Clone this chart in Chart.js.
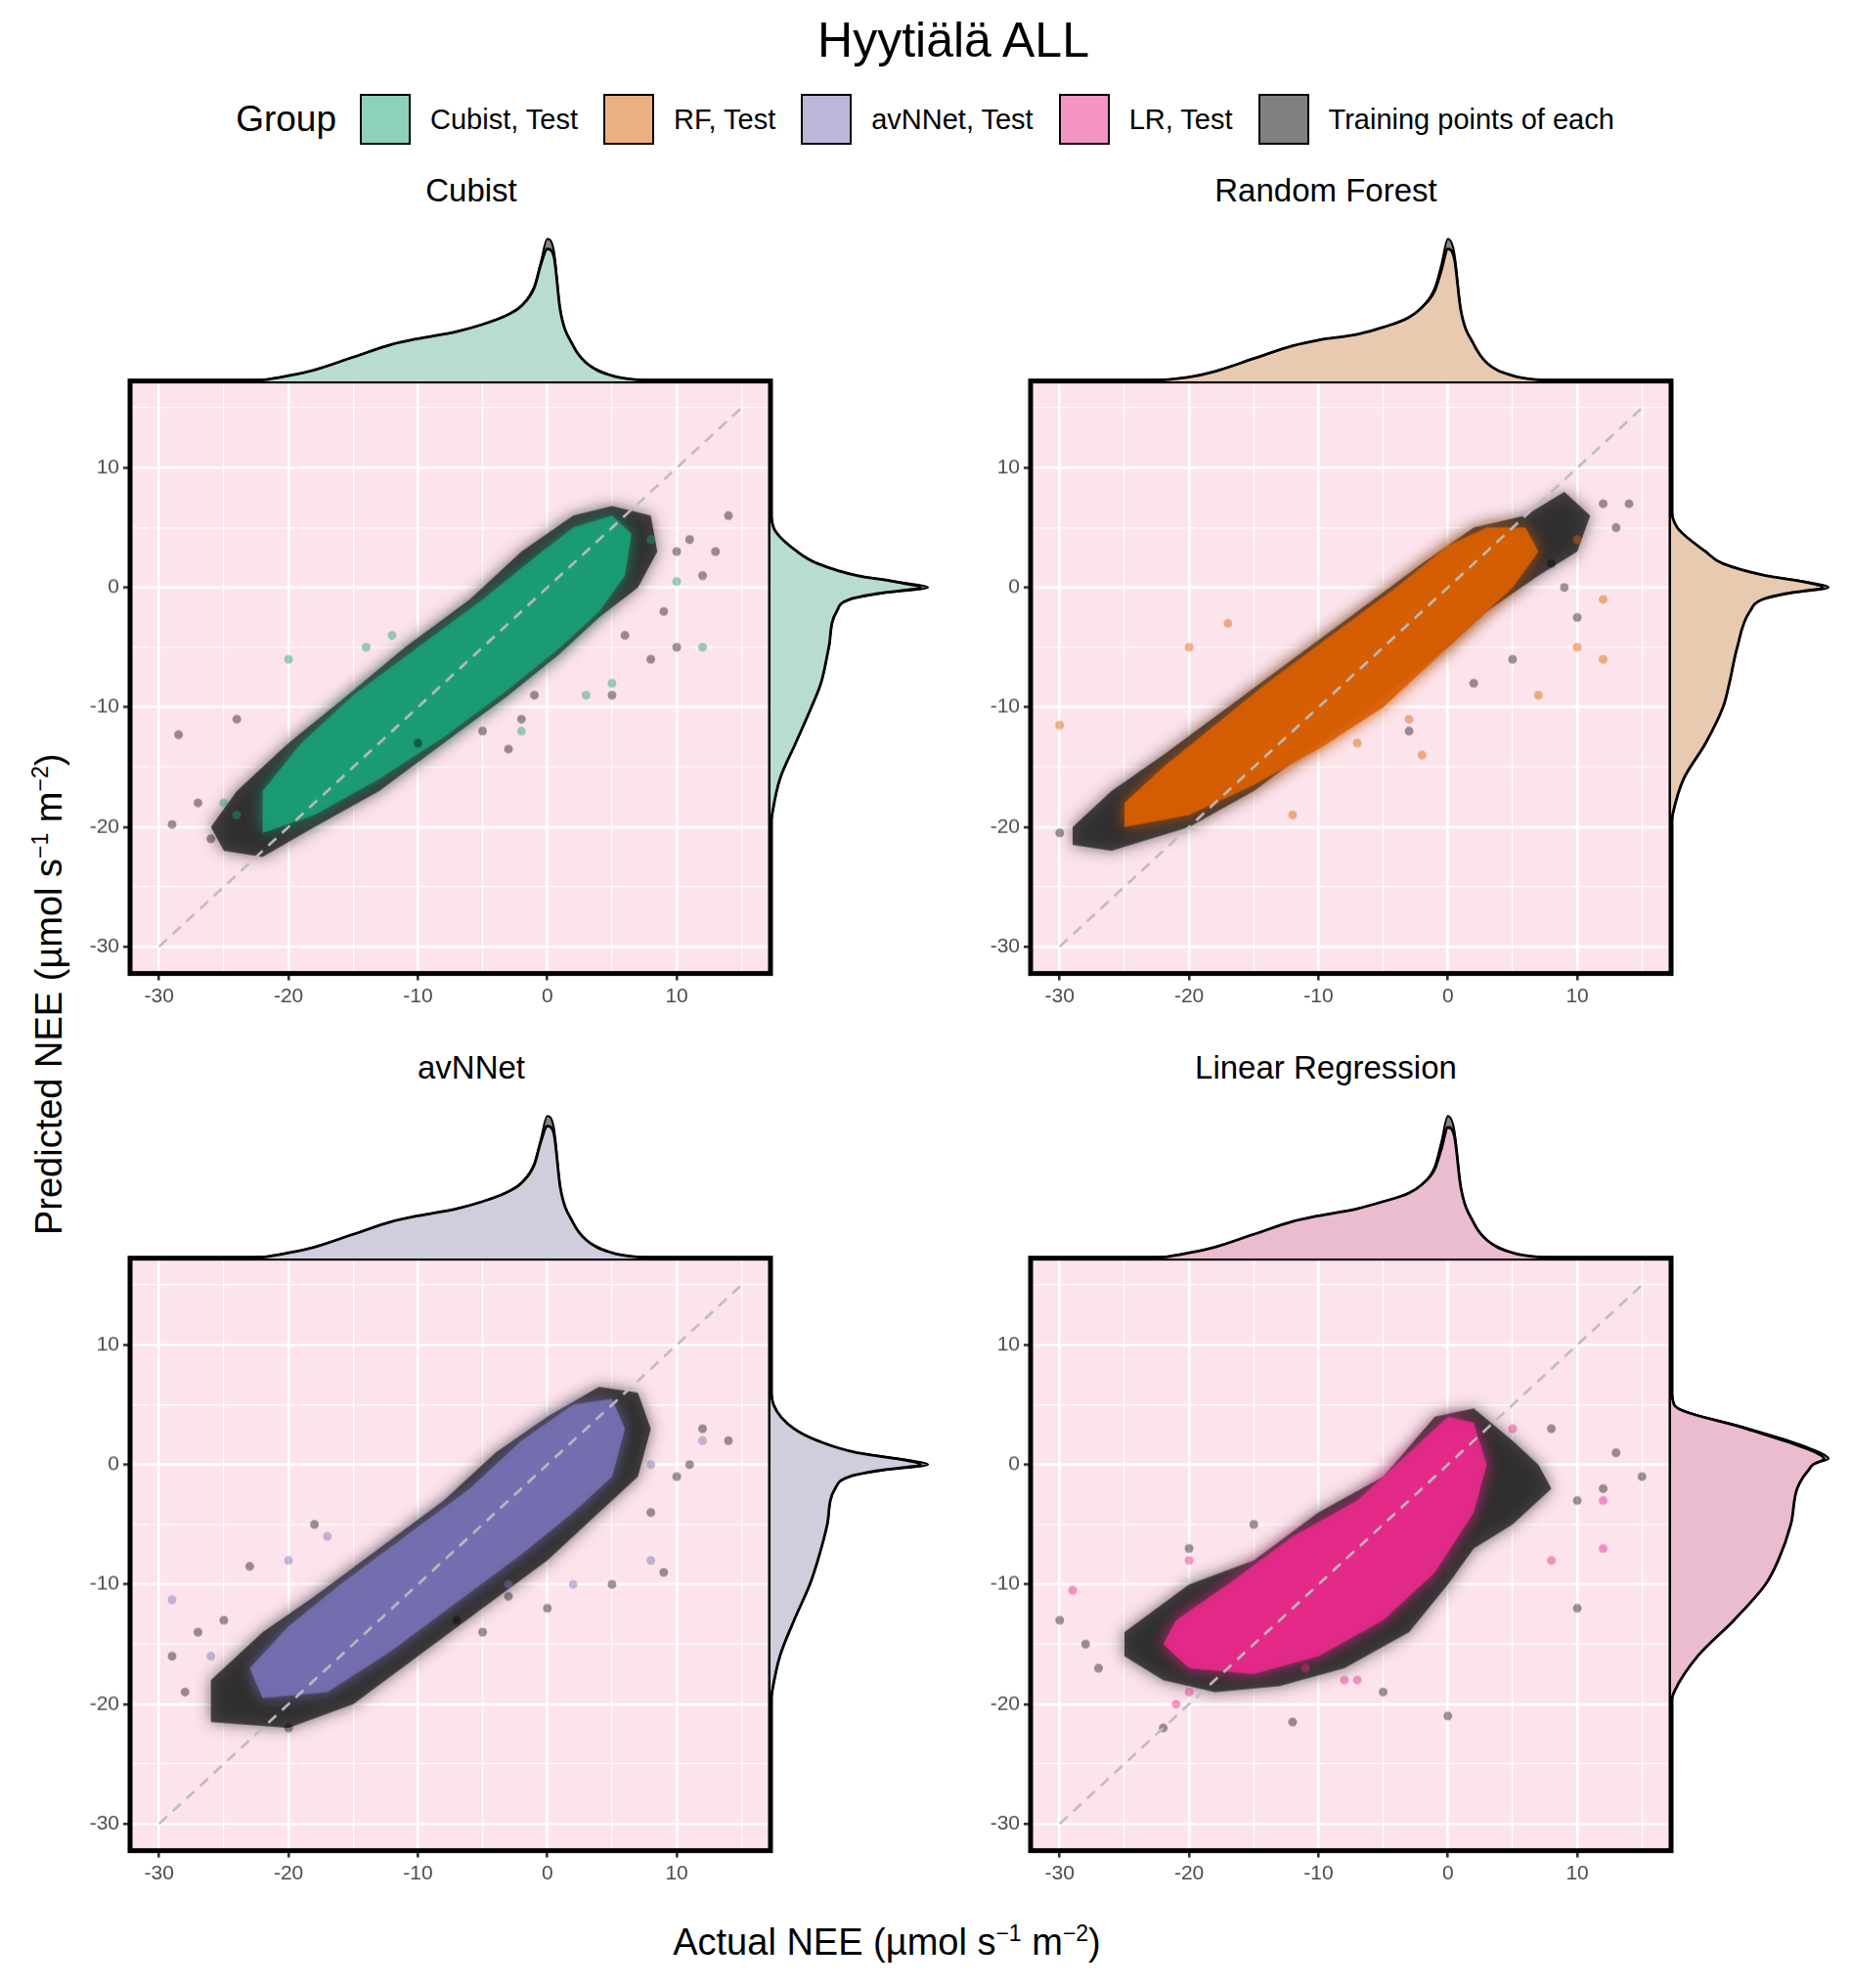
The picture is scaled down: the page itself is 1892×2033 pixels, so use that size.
<!DOCTYPE html>
<html>
<head>
<meta charset="utf-8">
<script src="https://cdn.jsdelivr.net/npm/chart.js@4.4.1/dist/chart.umd.min.js"></script>
<style>
  body { margin:0; background:#fff; font-family:"Liberation Sans", Arial, sans-serif; }
  #page { position:relative; width:1892px; height:2033px; overflow:hidden; }
  .box { position:absolute; }
  .txt { position:absolute; color:#000; white-space:nowrap; }
  #legend { position:absolute; top:96px; left:0; width:1892px; display:flex; justify-content:center; align-items:center; font-size:29px; }
  #legend .k { width:52px; height:52px; border:2px solid #000; box-sizing:border-box; margin:0 20px 0 26px; }
  #legend .g { font-size:37px; margin-right:-2px; }
</style>
</head>
<body>
<div id="page">
  <div class="txt" style="top:12px;left:0;width:1950px;text-align:center;font-size:50px;">Hyytiälä ALL</div>
  <div id="legend">
    <span class="g">Group</span>
    <span class="k" style="background:#8dd1b9"></span><span>Cubist, Test</span>
    <span class="k" style="background:#ecaf7f"></span><span>RF, Test</span>
    <span class="k" style="background:#bab7d9"></span><span>avNNet, Test</span>
    <span class="k" style="background:#f394c4"></span><span>LR, Test</span>
    <span class="k" style="background:#808080"></span><span>Training points of each</span>
  </div>
  <div class="txt" style="left:0;top:1964px;width:1814px;text-align:center;font-size:38px;">Actual NEE (µmol s<sup style="font-size:23px">−1</sup> m<sup style="font-size:23px">−2</sup>)</div>
  <div class="txt" style="left:-240px;top:995px;width:580px;text-align:center;font-size:38px;transform:rotate(-90deg);">Predicted NEE (µmol s<sup style="font-size:23px">−1</sup> m<sup style="font-size:23px">−2</sup>)</div>
</div>
<script>
// ---- data ----
const panelTitles = ['Cubist', 'Random Forest', 'avNNet', 'Linear Regression'];
const testColors = ['#1b9e77', '#d95f02', '#7570b3', '#e7298a'];
const margColors = ['#b8dccf', '#e8cab0', '#cfcedd', '#ebbcd0'];
const axisTicks = [-30, -25, -20, -15, -10, -5, 0, 5, 10, 15];

const xGrid = [-32,-28,-25,-22,-20,-18,-15,-12,-10,-7,-5,-3,-2,-1,-0.5,0,0.5,1,2,3,5,7,10,15,17];
const topTestCub = [0,0,0,0.01,0.04,0.08,0.17,0.26,0.3,0.35,0.4,0.47,0.53,0.66,0.82,0.93,0.88,0.5,0.25,0.13,0.04,0.01,0,0,0];
const topTrainCub = [0,0,0,0.01,0.04,0.08,0.17,0.26,0.3,0.35,0.4,0.47,0.53,0.67,0.84,1.0,0.92,0.5,0.25,0.13,0.04,0.01,0,0,0];
const topTestRF = [0,0,0,0.01,0.03,0.07,0.16,0.25,0.29,0.33,0.38,0.45,0.52,0.64,0.78,0.93,0.86,0.5,0.26,0.13,0.04,0.01,0,0,0];
const topTrainRF = [0,0,0,0.01,0.03,0.07,0.16,0.25,0.29,0.33,0.38,0.45,0.52,0.66,0.82,1.0,0.9,0.5,0.26,0.13,0.04,0.01,0,0,0];
const topTestNN = topTestCub;
const topTrainNN = topTrainCub;
const topTestLR = [0,0,0,0.01,0.04,0.08,0.17,0.26,0.3,0.35,0.4,0.46,0.52,0.63,0.77,0.92,0.86,0.5,0.25,0.13,0.04,0.01,0,0,0];
const topTrainLR = [0,0,0,0.01,0.04,0.08,0.17,0.26,0.3,0.35,0.4,0.46,0.52,0.65,0.82,1.0,0.9,0.5,0.25,0.13,0.04,0.01,0,0,0];

const yGrid = [-32,-25,-22,-20,-19,-16,-13,-10,-8,-5,-2,-1,-0.5,0,0.5,1,2,3,5,7,10,17];
const rightTestCub = [0,0,0,0,0.01,0.06,0.16,0.26,0.32,0.37,0.42,0.5,0.68,0.95,0.78,0.55,0.3,0.17,0.02,0,0,0];
const rightTrainCub = [0,0,0,0,0.01,0.06,0.16,0.26,0.32,0.37,0.42,0.5,0.7,1.0,0.8,0.55,0.3,0.17,0.02,0,0,0];
const rightTestRF = [0,0,0,0,0.01,0.08,0.22,0.33,0.37,0.42,0.5,0.58,0.73,0.96,0.83,0.6,0.33,0.22,0.04,0,0,0];
const rightTrainRF = [0,0,0,0,0.01,0.08,0.22,0.33,0.37,0.42,0.5,0.58,0.75,1.0,0.85,0.6,0.33,0.22,0.04,0,0,0];
const rightTestNN = [0,0,0,0,0.01,0.06,0.15,0.25,0.3,0.36,0.41,0.5,0.68,0.95,0.8,0.55,0.3,0.15,0.02,0,0,0];
const rightTrainNN = [0,0,0,0,0.01,0.06,0.15,0.25,0.3,0.36,0.41,0.5,0.7,1.0,0.82,0.55,0.3,0.15,0.02,0,0,0];
const rightTestLR = [0,0,0,0,0.02,0.17,0.4,0.6,0.68,0.76,0.8,0.84,0.87,0.9,0.97,0.92,0.72,0.48,0.02,0,0,0];
const rightTrainLR = [0,0,0,0,0.02,0.17,0.4,0.6,0.68,0.76,0.8,0.84,0.86,0.88,1.0,0.95,0.75,0.5,0.02,0,0,0];

const trainCloudCub = [[-25,-22],[-22,-22.5],[-18,-20],[-13,-17],[-8,-13],[-3,-9],[1,-5.5],[4,-2.5],[7,0],[8.5,3],[8,6],[5,6.8],[2,6],[-2,3],[-6,-1],[-11,-5],[-16,-9.5],[-20,-13],[-24,-17],[-26,-20]];
const testCloudCub = [[-22,-20.5],[-18,-19],[-13,-16],[-8,-12.5],[-3,-8.5],[1,-5],[4,-2],[6,1],[6.5,4.5],[5,6],[2,5],[-1,2.5],[-5,-1],[-10,-5],[-15,-9],[-19,-13],[-22,-17]];
const trainOutCub = [[-28.5,-12.3],[-29,-19.8],[-26,-21],[-24,-11],[-10,-13],[-5,-12],[-2,-11],[5,-9],[8,-6],[10,-5],[12,1],[13,3],[14,6],[10,3],[9,-2],[-3,-13.5],[-1,-9],[11,4],[6,-4],[-27,-18]];
const testOutCub = [[-20,-6],[-14,-5],[10,0.5],[12,-5],[-12,-4],[5,-8],[-2,-12],[-25,-18],[-24,-19],[3,-9],[8,4]];

const trainCloudRF = [[-29,-21.5],[-26,-22],[-20,-20],[-15,-17],[-10,-13],[-5,-9],[0,-5],[3,-2],[7,1],[10,3],[11,6],[9,8],[6,6],[2,5],[-2,2],[-7,-2],[-12,-6],[-17,-10],[-22,-14],[-26,-17],[-29,-20]];
const testCloudRF = [[-25,-20],[-20,-19],[-15,-16.5],[-10,-13.5],[-5,-10],[-1,-6],[2,-3],[5,0],[7,3],[6,5],[3,5],[0,3.5],[-4,0],[-9,-4],[-14,-8],[-18,-11.5],[-22,-15],[-25,-18]];
const trainOutRF = [[-30,-20.5],[10,-2.5],[5,-6],[2,-8],[8,2],[12,7],[14,7],[-3,-12],[9,0],[13,5]];
const testOutRF = [[-30,-11.5],[12,-6],[12,-1],[10,-5],[7,-9],[-7,-13],[-3,-11],[-2,-14],[-20,-5],[10,4],[-17,-3],[-12,-19]];

const trainCloudNN = [[-26,-21.5],[-20,-22],[-15,-20],[-10,-16],[-5,-12],[0,-8],[4,-4],[7,-1],[8,3],[7,6],[4,6.5],[0,4],[-4,1],[-8,-3],[-13,-7],[-18,-11],[-22,-14],[-26,-18]];
const testCloudNN = [[-22,-19.5],[-17,-19],[-12,-15.5],[-7,-11.5],[-2,-7.5],[2,-4],[5,-1],[6,3],[5,5.5],[2,5],[-2,2],[-6,-2],[-11,-6],[-16,-10],[-20,-13.5],[-23,-17]];
const trainOutNN = [[-29,-16],[-28,-19],[-27,-14],[-25,-13],[-23,-8.5],[-18,-5],[-7,-13],[-5,-14],[0,-12],[5,-10],[9,-9],[10,-1],[12,3],[14,2],[11,0],[-20,-22],[-3,-11],[8,-4]];
const testOutNN = [[-29,-11.3],[-20,-8],[-17,-6],[-26,-16],[8,-8],[2,-10],[8,0],[12,2],[-3,-10]];

const trainCloudLR = [[-25,-16],[-25,-14],[-20,-10],[-15,-8],[-10,-4],[-5,-1],[-1,4],[2,4.7],[5,2],[7,0],[8,-2],[5,-5],[2,-7],[0,-10],[-3,-14],[-8,-17],[-13,-18.5],[-18,-19],[-22,-18]];
const testCloudLR = [[-20,-17],[-15,-17.5],[-10,-16],[-5,-13],[-1,-9],[2,-4],[3,0],[2,3.5],[0,4],[-3,1],[-7,-3],[-12,-6],[-17,-10],[-21,-13],[-22,-15]];
const trainOutLR = [[-30,-13],[-28,-15],[-27,-17],[-22,-22],[-12,-21.5],[0,-21],[10,-12],[10,-3],[12,-2],[13,1],[15,-1],[8,3],[-5,-19],[-20,-7],[-15,-5]];
const testOutLR = [[-29,-10.5],[-21,-20],[-20,-19],[-8,-18],[-7,-18],[-11,-17],[12,-7],[12,-3],[8,-8],[5,3],[-20,-8],[-10,-7]];

const panels = [
  { top: topTestCub, topTr: topTrainCub, right: rightTestCub, rightTr: rightTrainCub, train: trainCloudCub, test: testCloudCub, trOut: trainOutCub, teOut: testOutCub },
  { top: topTestRF, topTr: topTrainRF, right: rightTestRF, rightTr: rightTrainRF, train: trainCloudRF, test: testCloudRF, trOut: trainOutRF, teOut: testOutRF },
  { top: topTestNN, topTr: topTrainNN, right: rightTestNN, rightTr: rightTrainNN, train: trainCloudNN, test: testCloudNN, trOut: trainOutNN, teOut: testOutNN },
  { top: topTestLR, topTr: topTrainLR, right: rightTestLR, rightTr: rightTrainLR, train: trainCloudLR, test: testCloudLR, trOut: trainOutLR, teOut: testOutLR }
];

// ---- layout ----
const boxX = [133, 1054], boxY = [390, 1287], boxW = 655, boxH = 605;
const titleX = [482, 1356];
const AX_W = 66, AX_H = 46, PAD = 6;
const RANGE = [-32.25, 17.25];

function hexA(hex, a) {
  const n = parseInt(hex.slice(1), 16);
  return `rgba(${n >> 16},${(n >> 8) & 255},${n & 255},${a})`;
}

const panelPlugin = {
  id: 'panelDeco',
  beforeDraw(chart) {
    const a = chart.chartArea, ctx = chart.ctx;
    ctx.save(); ctx.fillStyle = '#fde4ec'; ctx.fillRect(a.left, a.top, a.width, a.height); ctx.restore();
  },
  beforeDatasetsDraw(chart, args, opts) {
    if (!opts.train) return;
    const ctx = chart.ctx, sx = chart.scales.x, sy = chart.scales.y, a = chart.chartArea;
    ctx.save();
    ctx.beginPath(); ctx.rect(a.left, a.top, a.width, a.height); ctx.clip();
    [[opts.train, 'rgba(30,30,30,0.78)'], [opts.test, hexA(opts.color, 0.9)]].forEach(([poly, col]) => {
      ctx.beginPath();
      poly.forEach((p, i) => {
        const px = sx.getPixelForValue(p[0]), py = sy.getPixelForValue(p[1]);
        i ? ctx.lineTo(px, py) : ctx.moveTo(px, py);
      });
      ctx.closePath();
      ctx.shadowColor = col; ctx.shadowBlur = 16;
      ctx.fillStyle = col; ctx.fill();
    });
    ctx.restore();
  },
  afterDraw(chart) {
    const a = chart.chartArea, ctx = chart.ctx;
    ctx.save(); ctx.strokeStyle = '#000'; ctx.lineWidth = 5;
    ctx.strokeRect(a.left, a.top, a.width, a.height); ctx.restore();
  }
};

function axisOpts(isX) {
  return {
    type: 'linear', min: RANGE[0], max: RANGE[1],
    afterBuildTicks: s => { s.ticks = axisTicks.map(v => ({ value: v })); },
    afterFit: s => { if (isX) s.height = AX_H; else s.width = AX_W; },
    border: { display: false },
    grid: {
      color: '#ffffff',
      lineWidth: c => (c.tick && c.tick.value % 10 === 0) ? 2.6 : 1.2,
      tickColor: c => (c.tick && c.tick.value % 10 === 0) ? '#333' : 'rgba(0,0,0,0)',
      tickLength: 7
    },
    ticks: {
      autoSkip: false, maxRotation: 0, padding: 4,
      color: '#4d4d4d', font: { size: 21, family: 'Liberation Sans' },
      callback: v => v % 10 === 0 ? String(v) : ''
    }
  };
}

function addDiv(l, t, w, h) {
  const d = document.createElement('div');
  d.className = 'box';
  Object.assign(d.style, { left: l + 'px', top: t + 'px', width: w + 'px', height: h + 'px' });
  const c = document.createElement('canvas');
  d.appendChild(c);
  document.getElementById('page').appendChild(d);
  return c;
}

function lineDs(xs, ys, fillCol, lw, horiz) {
  return {
    data: xs.map((v, i) => horiz ? { x: ys[i], y: v } : { x: v, y: ys[i] }),
    borderColor: '#000', borderWidth: lw, backgroundColor: fillCol,
    fill: 'origin', pointRadius: 0, cubicInterpolationMode: 'monotone'
  };
}

const baseOpts = { responsive: true, maintainAspectRatio: false, animation: false, layout: { padding: 0 },
  plugins: { legend: { display: false }, tooltip: { enabled: false } } };

panels.forEach((p, i) => {
  const bx = boxX[i % 2], by = boxY[Math.floor(i / 2)];
  const col = testColors[i];

  const t = document.createElement('div');
  t.className = 'txt';
  Object.assign(t.style, { left: (titleX[i % 2] - 300) + 'px', width: '600px', top: (by - 214) + 'px', textAlign: 'center', fontSize: '33px' });
  t.textContent = panelTitles[i];
  document.getElementById('page').appendChild(t);

  // main scatter (canvas then shifted so that its chart area matches the box)
  const mc = addDiv(bx - AX_W - PAD, by - PAD, boxW + AX_W + 2 * PAD, boxH + AX_H + 2 * PAD);
  const main = new Chart(mc, {
    type: 'scatter',
    data: { datasets: [
      { type: 'line', data: [{ x: -30, y: -30 }, { x: 15, y: 15 }], borderColor: '#bdbdbd', borderWidth: 2.6, borderDash: [11, 8], pointRadius: 0 },
      { data: p.teOut.map(q => ({ x: q[0], y: q[1] })), backgroundColor: hexA(col, 0.45), borderWidth: 0, pointRadius: 4.5 },
      { data: p.trOut.map(q => ({ x: q[0], y: q[1] })), backgroundColor: 'rgba(0,0,0,0.4)', borderWidth: 0, pointRadius: 4.5 }
    ] },
    options: Object.assign({}, baseOpts, {
      layout: { padding: { top: PAD, right: PAD, left: PAD, bottom: PAD } },
      scales: { x: axisOpts(true), y: axisOpts(false) },
      plugins: Object.assign({}, baseOpts.plugins, { panelDeco: { train: p.train, test: p.test, color: col } })
    }),
    plugins: [panelPlugin]
  });
  const a = main.chartArea, div = mc.parentNode;
  const nl = parseFloat(div.style.left) + (bx - (parseFloat(div.style.left) + a.left));
  const nt = parseFloat(div.style.top) + (by - (parseFloat(div.style.top) + a.top));
  div.style.left = nl + 'px'; div.style.top = nt + 'px';
  div.style.width = (parseFloat(div.style.width) + boxW - a.width) + 'px';
  div.style.height = (parseFloat(div.style.height) + boxH - a.height) + 'px';
  main.resize();

  // top marginal: training (gray) under test (colour)
  new Chart(addDiv(bx, by - 150, boxW, 150), {
    type: 'line',
    data: { datasets: [lineDs(xGrid, p.top, margColors[i], 2.8, false), lineDs(xGrid, p.topTr, 'rgba(120,120,120,0.9)', 2, false)] },
    options: Object.assign({}, baseOpts, { scales: {
      x: { type: 'linear', min: RANGE[0], max: RANGE[1], display: false },
      y: { min: 0, max: 1.03, display: false } } })
  });

  // right marginal
  new Chart(addDiv(bx + boxW, by, 166, boxH), {
    type: 'line',
    data: { datasets: [lineDs(yGrid, p.right, margColors[i], 2.8, true), lineDs(yGrid, p.rightTr, 'rgba(120,120,120,0.9)', 2, true)] },
    options: Object.assign({}, baseOpts, { indexAxis: 'y', scales: {
      x: { type: 'linear', min: 0, max: 1.03, display: false },
      y: { type: 'linear', min: RANGE[0], max: RANGE[1], display: false } } })
  });
});
</script>
</body>
</html>
